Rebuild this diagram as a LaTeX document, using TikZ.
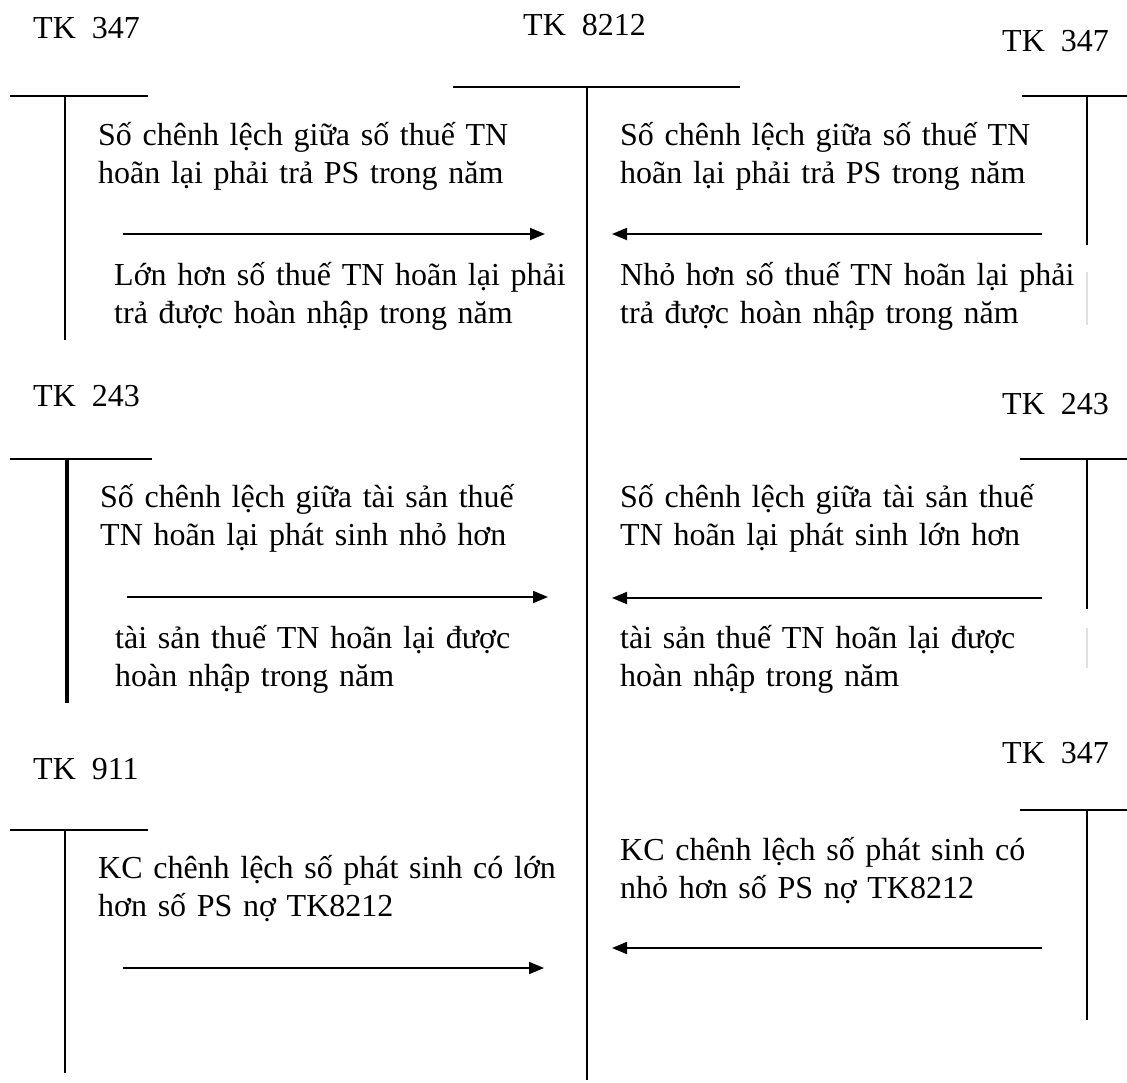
\documentclass[tikz,border=0pt]{standalone}
\usepackage{fontspec}
\setmainfont{Liberation Serif}
\usetikzlibrary{arrows.meta}
\begin{document}
\begin{tikzpicture}[x=1pt,y=-1pt,
  lbl/.style={anchor=base west, inner sep=0pt, font=\fontsize{32}{38}\selectfont},
  txt/.style={anchor=base west, inner sep=0pt, text width=#1, align=left, font=\fontsize{32}{38}\selectfont},
  tline/.style={line width=1.5pt},
  thickline/.style={line width=3.5pt},
  flow/.style={line width=1.8pt, -{Triangle[length=15pt,width=12pt]}},
  faint/.style={line width=1.5pt, black!12}]
\useasboundingbox (0,0) rectangle (1127,1082);

% ---------- account labels ----------
\node[lbl] (tk347a) at (33,38) {TK~~347};
\node[lbl] (tk8212) at (523,35) {TK~~8212};
\node[lbl] (tk347b) at (1002,51) {TK~~347};
\node[lbl] (tk243a) at (33,406) {TK~~243};
\node[lbl] (tk243b) at (1002,414) {TK~~243};
\node[lbl] (tk911) at (33,779) {TK~~911};
\node[lbl] (tk347c) at (1002,763) {TK~~347};

% ---------- T accounts ----------
% centre TK 8212
\draw[tline] (453,87) -- (740,87);
\draw[tline] (587,87) -- (587,1080);
% left TK 347
\draw[tline] (10,96) -- (148,96);
\draw[tline] (65,96) -- (65,340);
% right TK 347
\draw[tline] (1022,96) -- (1127,96);
\draw[tline] (1087,96) -- (1087,245);
\draw[faint] (1087,272) -- (1087,325);
% left TK 243
\draw[tline] (10,459) -- (152,459);
\draw[thickline] (67,459) -- (67,703);
% right TK 243
\draw[tline] (1020,459) -- (1127,459);
\draw[tline] (1087,459) -- (1087,609);
\draw[faint] (1087,628) -- (1087,668);
% left TK 911
\draw[tline] (10,830) -- (148,830);
\draw[tline] (65,830) -- (65,1073);
% right TK 347
\draw[tline] (1020,810) -- (1127,810);
\draw[tline] (1087,810) -- (1087,1020);

% ---------- texts ----------
\node[txt=442pt] (l1) at (98,145) {\makebox[442pt][s]{Số chênh lệch giữa số thuế TN}\\hoãn lại phải trả PS trong năm};
\node[txt=444pt] (l1b) at (114,285) {\makebox[444pt][s]{Lớn hơn số thuế TN hoãn lại phải}\\trả được hoàn nhập trong năm};
\node[txt=415pt] (r1) at (620,145) {\makebox[415pt][s]{Số chênh lệch giữa số thuế TN}\\hoãn lại phải trả PS trong năm};
\node[txt=447pt] (r1b) at (620,285) {\makebox[447pt][s]{Nhỏ hơn số thuế TN hoãn lại phải}\\trả được hoàn nhập trong năm};

\node[txt=449pt] (l2) at (100,507) {\makebox[449pt][s]{Số chênh lệch giữa tài sản thuế}\\TN hoãn lại phát sinh nhỏ hơn};
\node[txt=446pt] (l2b) at (115,648) {\makebox[446pt][s]{tài sản thuế TN hoãn lại được}\\hoàn nhập trong năm};
\node[txt=420pt] (r2) at (620,507) {\makebox[420pt][s]{Số chênh lệch giữa tài sản thuế}\\TN hoãn lại phát sinh lớn hơn};
\node[txt=448pt] (r2b) at (620,648) {\makebox[448pt][s]{tài sản thuế TN hoãn lại được}\\hoàn nhập trong năm};

\node[txt=447pt] (l3) at (98,878) {\makebox[447pt][s]{KC chênh lệch số phát sinh có lớn}\\hơn số PS nợ TK8212};
\node[txt=428pt] (r3) at (620,860) {\makebox[428pt][s]{KC chênh lệch số phát sinh có}\\nhỏ hơn số PS nợ TK8212};

% ---------- arrows ----------
\coordinate (a1s) at (123,234);  \coordinate (a1e) at (545,234);
\coordinate (b1s) at (1042,234); \coordinate (b1e) at (612,234);
\coordinate (a2s) at (127,597);  \coordinate (a2e) at (548,597);
\coordinate (b2s) at (1042,598); \coordinate (b2e) at (612,598);
\coordinate (a3s) at (123,968);  \coordinate (a3e) at (544,968);
\coordinate (b3s) at (1042,948); \coordinate (b3e) at (612,948);
\draw[flow] (a1s) -- (a1e);
\draw[flow] (b1s) -- (b1e);
\draw[flow] (a2s) -- (a2e);
\draw[flow] (b2s) -- (b2e);
\draw[flow] (a3s) -- (a3e);
\draw[flow] (b3s) -- (b3e);
\end{tikzpicture}
\end{document}
